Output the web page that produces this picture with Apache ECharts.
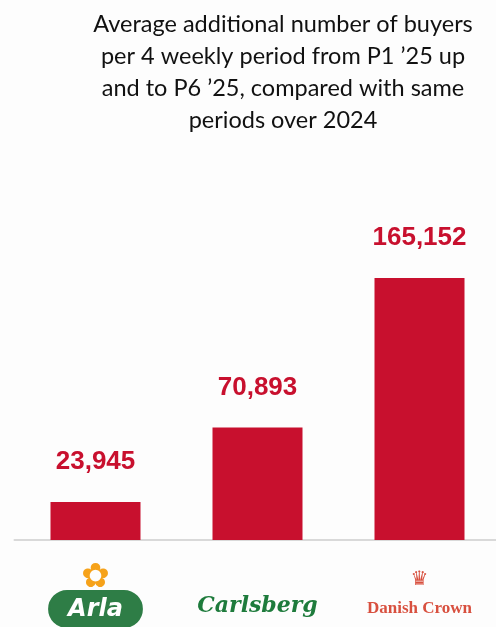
<!DOCTYPE html>
<html><head><meta charset="utf-8">
<script src="https://cdn.jsdelivr.net/npm/echarts@6/dist/echarts.min.js"></script>
<style>html,body{margin:0;padding:0;background:#fdfdfd}#c{width:496px;height:627px}</style>
</head><body><div id="c"></div>
<script>
const categories = ['Arla', 'Carlsberg', 'Danish Crown'];
const values = [23945, 70893, 165152];
const titleText = 'Average additional number of buyers\nper 4 weekly period from P1 \u201925 up\nand to P6 \u201925, compared with same\nperiods over 2024';

const chart = echarts.init(document.getElementById('c'), null, {renderer: 'canvas'});
chart.setOption({
  backgroundColor: '#fdfdfd',
  animation: false,
  title: {
    text: titleText,
    left: 278, top: 3, textAlign: 'center',
    textStyle: {fontFamily: 'Lato', fontWeight: 'normal', fontSize: 23.5, lineHeight: 32, color: '#111'}
  },
  grid: {left: 14.5, top: 222.7, width: 486, height: 317.3, containLabel: false, outerBoundsMode: 'none'},
  xAxis: {
    type: 'category', data: categories,
    axisTick: {show: false},
    axisLine: {lineStyle: {color: '#d9d9d9', width: 2}},
    axisLabel: {
      margin: 24,
      formatter: function (v) {
        if (v === 'Arla') return '{fl|\u273F}\n{arla|Arla}';
        if (v === 'Carlsberg') return '{sp| }\n{carl|Carlsberg}';
        return '{cr|\u265B}\n{dc|Danish Crown}';
      },
      rich: {
        fl: {color: '#f6a21a', fontFamily: 'DejaVu Sans', fontSize: 34, lineHeight: 28},
        arla: {color: '#fff', backgroundColor: '#2e7d46', borderRadius: 24, padding: [6, 18, 4, 18],
               fontFamily: 'DejaVu Sans', fontStyle: 'italic', fontWeight: 'bold', fontSize: 24,
               borderColor: '#2e7d46', borderWidth: 2},
        sp: {fontSize: 12, lineHeight: 24},
        carl: {color: '#1e7b3c', fontFamily: 'DejaVu Serif', fontStyle: 'italic', fontWeight: 'bold', fontSize: 22, lineHeight: 36},
        cr: {color: '#d8503f', fontFamily: 'DejaVu Sans', fontSize: 20, lineHeight: 32},
        dc: {color: '#d8503f', fontFamily: 'Liberation Serif', fontWeight: 'bold', fontSize: 17, lineHeight: 26}
      }
    }
  },
  yAxis: {type: 'value', min: 0, max: 200000, show: false, splitLine: {show: false}},
  series: [{
    type: 'bar', data: values, barWidth: 90,
    itemStyle: {color: '#c8102e'},
    label: {
      show: true, position: 'top', distance: 27,
      formatter: function (p) { return p.value.toLocaleString('en-US'); },
      color: '#c8102e', fontFamily: 'Liberation Sans', fontWeight: 'bold', fontSize: 26
    }
  }]
});
</script></body></html>
